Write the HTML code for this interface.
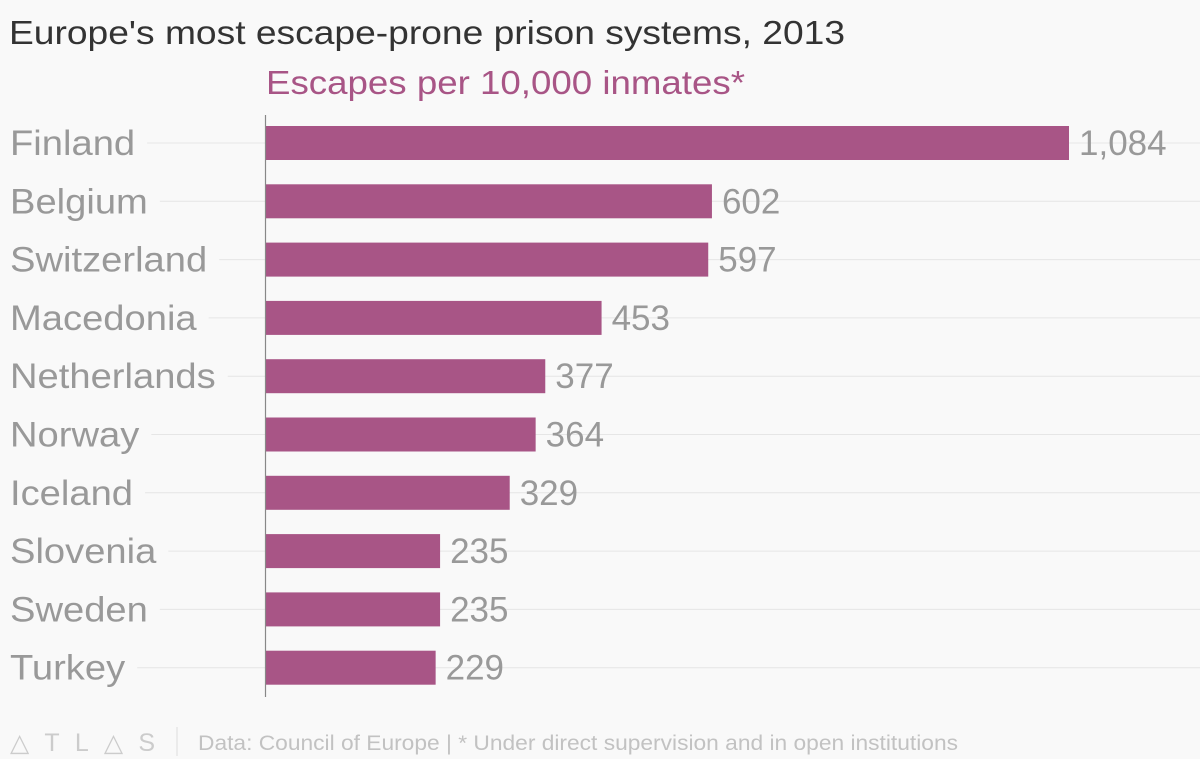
<!DOCTYPE html>
<html><head><meta charset="utf-8"><style>
html,body{margin:0;padding:0;background:#f9f9f9;}
svg{display:block;font-family:"Liberation Sans",sans-serif;}
</style></head><body>
<svg id="chart" width="1200" height="759">
<rect width="1200" height="759" fill="#f9f9f9"/>
<text x="9" y="44" font-size="33" fill="#333" textLength="836" lengthAdjust="spacingAndGlyphs">Europe's most escape-prone prison systems, 2013</text>
<text x="266" y="94" font-size="33" fill="#a85586" textLength="479" lengthAdjust="spacingAndGlyphs">Escapes per 10,000 inmates*</text>
<g id="grid"></g><g id="bars"></g>
<line x1="265.5" y1="115" x2="265.5" y2="697" stroke="#888" stroke-width="1.2"/>
<text x="10" y="751" font-size="25" fill="#ccc" textLength="145" lengthAdjust="spacing">△TL△S</text>
<line x1="177" y1="727" x2="177" y2="756" stroke="#ddd"/>
<text x="198" y="750" font-size="21" fill="#c2c2c2" textLength="760" lengthAdjust="spacingAndGlyphs">Data: Council of Europe | * Under direct supervision and in open institutions</text>
</svg>
<script>
const categories=["Finland","Belgium","Switzerland","Macedonia","Netherlands","Norway","Iceland","Slovenia","Sweden","Turkey"];
const values=[1084,602,597,453,377,364,329,235,235,229];
const valueLabels=["1,084","602","597","453","377","364","329","235","235","229"];
const NS="http://www.w3.org/2000/svg";
const x0=266, xScale=v=>x0+v*(803/1084);
const yTop=i=>126+i*58.3, bh=34;
const grid=document.getElementById('grid'), bars=document.getElementById('bars');
categories.forEach((c,i)=>{
  const cy=yTop(i)+bh/2;
  const t=document.createElementNS(NS,'text');
  t.setAttribute('x',10);t.setAttribute('y',cy+12);t.setAttribute('font-size',35);t.setAttribute('fill','#999');
  t.textContent=c;
  
  
  grid.appendChild(t);
  const w=t.getComputedTextLength()*1.09;
  t.setAttribute('textLength',w);t.setAttribute('lengthAdjust','spacingAndGlyphs');
  const g=document.createElementNS(NS,'line');
  g.setAttribute('x1',10+w+12);g.setAttribute('x2',1200);g.setAttribute('y1',cy);g.setAttribute('y2',cy);
  g.setAttribute('stroke','#e6e6e6');g.setAttribute('stroke-width',1);
  
  
  grid.appendChild(g);
  const r=document.createElementNS(NS,'rect');
  r.setAttribute('x',x0);r.setAttribute('y',yTop(i));r.setAttribute('width',xScale(values[i])-x0);r.setAttribute('height',bh);
  r.setAttribute('fill','#a85586');
  
  
  bars.appendChild(r);
  const v=document.createElementNS(NS,'text');
  v.setAttribute('x',xScale(values[i])+10);v.setAttribute('y',cy+12);v.setAttribute('font-size',35);v.setAttribute('fill','#999');
  v.textContent=valueLabels[i];
  
  
  bars.appendChild(v);
});
</script>
</body></html>
